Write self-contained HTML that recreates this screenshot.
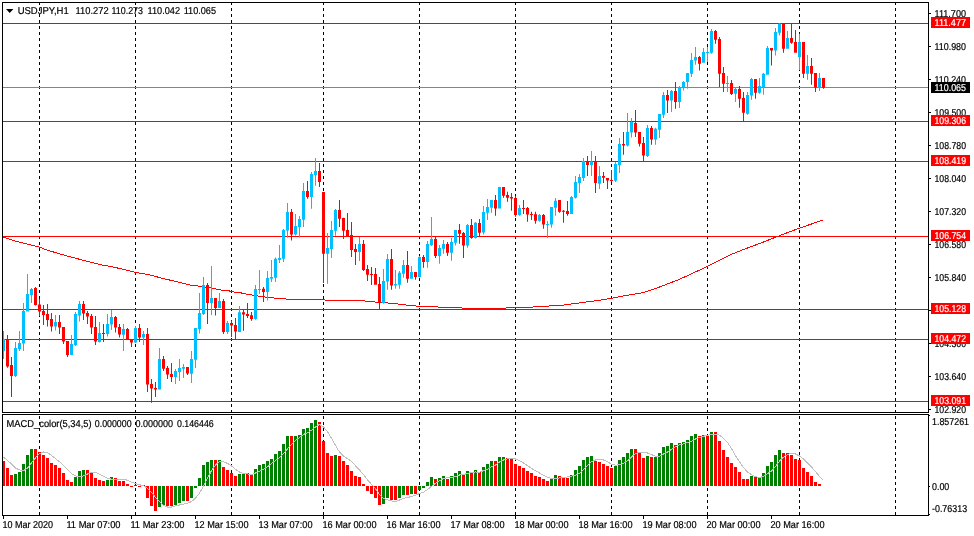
<!DOCTYPE html>
<html lang="en"><head><meta charset="utf-8"><title>USDJPY,H1</title>
<style>html,body{margin:0;padding:0;background:#fff;}body{width:974px;height:536px;overflow:hidden;}svg{display:block;}text{font-family:"Liberation Sans",sans-serif;font-size:10px;fill:#000;stroke:#000;stroke-width:0.2px;text-rendering:geometricPrecision;}.w{fill:#fff;stroke:#fff;}</style></head><body>
<svg width="974" height="536" viewBox="0 0 974 536">
<rect width="974" height="536" fill="#fff"/>
<g stroke="#000" stroke-width="1" shape-rendering="crispEdges">
<line x1="39.5" y1="2" x2="39.5" y2="515" stroke-dasharray="3 3"/>
<line x1="135.5" y1="2" x2="135.5" y2="515" stroke-dasharray="3 3"/>
<line x1="231.5" y1="2" x2="231.5" y2="515" stroke-dasharray="3 3"/>
<line x1="323.5" y1="2" x2="323.5" y2="515" stroke-dasharray="3 3"/>
<line x1="419.5" y1="2" x2="419.5" y2="515" stroke-dasharray="3 3"/>
<line x1="515.5" y1="2" x2="515.5" y2="515" stroke-dasharray="3 3"/>
<line x1="611.5" y1="2" x2="611.5" y2="515" stroke-dasharray="3 3"/>
<line x1="707.5" y1="2" x2="707.5" y2="515" stroke-dasharray="3 3"/>
<line x1="799.5" y1="2" x2="799.5" y2="515" stroke-dasharray="3 3"/>
<line x1="895.5" y1="2" x2="895.5" y2="515" stroke-dasharray="3 3"/>
</g>
<polyline fill="none" stroke="#FF0000" stroke-width="1" shape-rendering="crispEdges" points="3,237 16.4,241.4 39.4,247.2 49.3,250.8 69,256.5 85.4,260.8 101.8,264.9 115,267.4 135.5,272.3 150,275 165,279 180,282.4 190,285 200,286.2 213,288.4 222,290.2 229.7,291.02 234.2,292.02 241.6,293.02 246.1,294.02 252,295.02 258,296.02 265.4,297.02 274,298.02 286,299.02 326,300.02 360,300.5 374,301.9 394,303.5 406,305 418,306.25 438,307 462,308 482,308.6 503,308.7 506,307.9 519,307.6 533,307 549,306 564,305 581,302.7 597.5,300.5 611,298.4 627,295.3 642,292.9 650,290.5 659.5,287 680,279.1 707.3,266.5 729.7,255.1 743.4,249.5 761,243 776.6,236.8 788.3,232.3 800,228 822.4,220.2"/>
<g shape-rendering="crispEdges">
<rect x="3" y="87" width="925" height="1" fill="#778899"/>
<rect x="3" y="23" width="925" height="1" fill="#FF0000"/>
<rect x="3" y="121" width="925" height="1" fill="#FF0000"/>
<rect x="3" y="161" width="925" height="1" fill="#FF0000"/>
<rect x="3" y="236" width="925" height="1" fill="#FF0000"/>
<rect x="3" y="309" width="925" height="1" fill="#FF0000"/>
<rect x="3" y="339" width="925" height="1" fill="#FF0000"/>
<rect x="3" y="401" width="925" height="1" fill="#FF0000"/>
</g>
<path fill="#00BFFF" d="M2 339h3V351h-3zM3 331h1V359h-1zM14 348h3V376h-3zM15 342h1V377h-1zM18 343h3V349h-3zM19 331h1V351h-1zM22 311h3V343.5h-3zM23 303h1V351h-1zM26 294h3V311.5h-3zM27 274h1V311.5h-1zM30 289h3V295h-3zM31 288h1V303h-1zM54 322h3V326.5h-3zM55 315h1V330.5h-1zM70 344h3V355h-3zM71 335h1V355h-1zM74 314h3V345h-3zM75 312h1V346h-1zM78 304h3V315.5h-3zM79 301h1V321.5h-1zM98 333h3V342h-3zM99 322h1V342.5h-1zM106 324h3V334h-3zM107 314h1V336.5h-1zM110 317h3V324.5h-3zM111 310h1V330h-1zM122 329h3V334.75h-3zM123 324h1V351h-1zM134 328h3V342.6h-3zM135 326h1V343h-1zM142 334h3V337.5h-3zM143 331h1V345h-1zM158 359h3V389.6h-3zM159 348h1V389.6h-1zM174 371h3V377h-3zM175 369h1V384h-1zM178 368h3V372h-3zM179 359h1V381h-1zM182 367h3V368.7h-3zM183 364h1V378h-1zM190 359h3V373.7h-3zM191 351h1V383h-1zM194 328h3V359.8h-3zM195 328h1V368h-1zM198 313h3V329h-3zM199 293h1V333.5h-1zM202 285h3V314h-3zM203 277h1V315h-1zM210 298h3V303h-3zM211 266h1V315h-1zM218 301h3V308h-3zM219 293h1V308h-1zM226 323h3V332h-3zM227 321h1V334h-1zM238 312.2h3V331.9h-3zM239 306h1V332h-1zM254 289h3V319h-3zM255 285h1V319.7h-1zM258 289h3V290h-3zM259 270h1V293.75h-1zM266 278h3V292h-3zM267 271h1V300.6h-1zM270 277h3V278.75h-3zM271 260h1V282h-1zM274 258.75h3V277.75h-3zM275 257.5h1V282h-1zM278 258h3V260h-3zM279 245h1V263h-1zM282 230h3V258.75h-3zM283 229h1V262h-1zM286 212h3V230.6h-3zM287 203h1V237.5h-1zM294 226h3V234.6h-3zM295 214h1V235.6h-1zM298 219h3V227h-3zM299 216h1V237.5h-1zM302 191h3V219.8h-3zM303 183h1V227h-1zM310 174h3V197h-3zM311 172h1V208.75h-1zM314 171h3V175h-3zM315 158h1V185.8h-1zM326 248h3V253.75h-3zM327 233h1V283.75h-1zM330 230h3V249h-3zM331 221h1V258h-1zM334 210h3V230.7h-3zM335 209h1V235.7h-1zM358 244h3V252h-3zM359 237h1V261h-1zM382 281h3V303h-3zM383 269h1V303.75h-1zM386 259h3V281.6h-3zM387 254h1V289.75h-1zM394 284h3V285.6h-3zM395 270h1V288.75h-1zM398 272.75h3V284.75h-3zM399 271h1V288.75h-1zM402 265h3V273.75h-3zM403 260h1V277.75h-1zM410 272h3V278.75h-3zM411 266h1V278.75h-1zM418 257h3V276.9h-3zM419 256h1V277.5h-1zM426 244h3V261.9h-3zM427 241h1V267.75h-1zM430 239h3V245h-3zM431 217h1V246h-1zM438 248h3V255.9h-3zM439 245h1V263.75h-1zM442 244h3V248.75h-3zM443 240h1V253.75h-1zM450 242h3V252.75h-3zM451 238h1V260.75h-1zM454 230h3V242.75h-3zM455 230h1V245.6h-1zM466 225h3V245.6h-3zM467 224h1V247.75h-1zM474 222.75h3V238h-3zM475 222h1V238.75h-1zM482 212h3V232.6h-3zM483 206h1V234.5h-1zM486 207h3V212.75h-3zM487 199h1V220h-1zM490 200h3V207.75h-3zM491 200h1V212.75h-1zM498 187h3V208.6h-3zM499 187h1V208.6h-1zM518 208h3V214.9h-3zM519 205h1V215.75h-1zM538 215h3V220.75h-3zM539 214h1V221.75h-1zM546 224h3V225h-3zM547 221h1V237.9h-1zM550 207h3V224.6h-3zM551 207h1V227.75h-1zM554 200.75h3V207.75h-3zM555 198h1V215.75h-1zM570 197h3V214h-3zM571 196h1V214h-1zM574 182h3V197.75h-3zM575 176h1V198.6h-1zM578 177h3V183h-3zM579 174h1V193h-1zM582 161h3V178h-3zM583 158h1V181h-1zM590 161.5h3V165h-3zM591 151h1V176h-1zM598 176h3V183.8h-3zM599 166h1V189h-1zM614 164h3V180.8h-3zM615 162h1V182h-1zM618 144h3V165h-3zM619 138h1V173h-1zM626 132h3V145.6h-3zM627 113h1V146.5h-1zM630 122h3V132.5h-3zM631 118h1V137.5h-1zM646 128h3V156h-3zM647 125h1V157h-1zM654 128.75h3V139.6h-3zM655 127.75h1V144.75h-1zM658 114h3V129.75h-3zM659 114h1V138h-1zM662 95h3V114.75h-3zM663 92h1V118h-1zM670 91h3V100.6h-3zM671 90h1V112h-1zM678 87h3V102h-3zM679 86h1V108h-1zM682 82h3V87h-3zM683 81h1V90.6h-1zM686 73h3V82h-3zM687 73h1V88.75h-1zM690 60h3V73.75h-3zM691 53h1V77h-1zM694 57h3V60.6h-3zM695 47h1V64.75h-1zM702 52h3V62.75h-3zM703 48h1V62.75h-1zM706 52h3V53h-3zM707 47h1V62h-1zM710 31h3V52.75h-3zM711 29h1V53.75h-1zM726 83h3V84h-3zM727 76h1V92h-1zM734 89h3V93.75h-3zM735 87h1V102h-1zM746 95h3V113.75h-3zM747 92h1V114.75h-1zM750 79h3V95.6h-3zM751 78h1V99.75h-1zM758 86h3V92.75h-3zM759 78h1V93.75h-1zM762 73.75h3V87h-3zM763 73h1V94.75h-1zM766 48h3V74.75h-3zM767 46h1V74.75h-1zM774 32h3V50.6h-3zM775 28h1V55.6h-1zM778 23.75h3V32.75h-3zM779 23h1V35.6h-1zM786 38h3V48.75h-3zM787 31h1V48.75h-1zM798 42h3V56.9h-3zM799 33.75h1V70h-1zM806 66h3V73.75h-3zM807 55h1V79.75h-1zM818 78h3V87.5h-3zM819 73h1V91h-1z"/>
<path fill="#FF0000" d="M6 339.4h3V366.5h-3zM7 335h1V367.7h-1zM10 365h3V376h-3zM11 357h1V397h-1zM34 288h3V305h-3zM35 287h1V305.5h-1zM38 304.5h3V311.5h-3zM39 299h1V316h-1zM42 311h3V315h-3zM43 305h1V325h-1zM46 314h3V320h-3zM47 304h1V326.5h-1zM50 319h3V326.5h-3zM51 313h1V331.5h-1zM58 322h3V327.5h-3zM59 315h1V334h-1zM62 327h3V341.5h-3zM63 327h1V344h-1zM66 341h3V355h-3zM67 341h1V357h-1zM82 304h3V313.5h-3zM83 301h1V320h-1zM86 313h3V316.5h-3zM87 311h1V324h-1zM90 316h3V327.5h-3zM91 314h1V334h-1zM94 327h3V341.5h-3zM95 316h1V345h-1zM102 333h3V334h-3zM103 324h1V342h-1zM114 317h3V327.5h-3zM115 316h1V332.5h-1zM118 327h3V334.5h-3zM119 324h1V337.5h-1zM126 329h3V339h-3zM127 328h1V339h-1zM130 339h3V342.6h-3zM131 339h1V347h-1zM138 328h3V337.5h-3zM139 324h1V342h-1zM146 334h3V384.6h-3zM147 328h1V392h-1zM150 384h3V388.6h-3zM151 379h1V402.8h-1zM154 388h3V389.6h-3zM155 382h1V397h-1zM162 359h3V368.7h-3zM163 356h1V371h-1zM166 368h3V374.6h-3zM167 366h1V379h-1zM170 374h3V377h-3zM171 363h1V382h-1zM186 367h3V373.6h-3zM187 367h1V375h-1zM206 285h3V303h-3zM207 283h1V324h-1zM214 298h3V308h-3zM215 298h1V315.6h-1zM222 301h3V332h-3zM223 299h1V334h-1zM230 323h3V325.6h-3zM231 320.6h1V337h-1zM234 325h3V331.6h-3zM235 318h1V339.5h-1zM242 312.2h3V314.6h-3zM243 309.5h1V330.8h-1zM246 314h3V315.9h-3zM247 303h1V318h-1zM250 315.3h3V319h-3zM251 312h1V320.8h-1zM262 288.75h3V292h-3zM263 287h1V302h-1zM290 212h3V234.6h-3zM291 209h1V240.6h-1zM306 191h3V197h-3zM307 181h1V198.75h-1zM318 171h3V182h-3zM319 163h1V187h-1zM322 192h3V253.75h-3zM323 192h1V283h-1zM338 210h3V218.8h-3zM339 200h1V227h-1zM342 218h3V230.7h-3zM343 217.8h1V238.9h-1zM346 230h3V236.6h-3zM347 213h1V236.6h-1zM350 235h3V250h-3zM351 222h1V257h-1zM354 249h3V252h-3zM355 244h1V265h-1zM362 244h3V270h-3zM363 240h1V271h-1zM366 269h3V274.75h-3zM367 265h1V281h-1zM370 274h3V275h-3zM371 267h1V285h-1zM374 274h3V284.75h-3zM375 268h1V284.75h-1zM378 284h3V302.5h-3zM379 277h1V309.4h-1zM390 259h3V285.6h-3zM391 249h1V289.75h-1zM406 265h3V278.75h-3zM407 251h1V282.75h-1zM414 272h3V276.9h-3zM415 272h1V279.75h-1zM422 257h3V261.9h-3zM423 255h1V267.75h-1zM434 239h3V255.9h-3zM435 237h1V257.9h-1zM446 244h3V252.75h-3zM447 242h1V255.9h-1zM458 230h3V233.75h-3zM459 224h1V243.75h-1zM462 233h3V245.6h-3zM463 232h1V257.9h-1zM470 225h3V238h-3zM471 219h1V238.75h-1zM478 223h3V232.75h-3zM479 219h1V236h-1zM494 200h3V208.6h-3zM495 195h1V215.75h-1zM502 187h3V195.75h-3zM503 187h1V197.75h-1zM506 195h3V197.75h-3zM507 191.75h1V201.75h-1zM510 197h3V198.6h-3zM511 193h1V210.75h-1zM514 198h3V214.9h-3zM515 196h1V216.75h-1zM522 208h3V209h-3zM523 200h1V214h-1zM526 208h3V214.6h-3zM527 207h1V221.75h-1zM530 214h3V215h-3zM531 211.75h1V220h-1zM534 214.25h3V220.75h-3zM535 211.75h1V223.75h-1zM542 215h3V224.6h-3zM543 214h1V228.75h-1zM558 200h3V211.75h-3zM559 200h1V212.75h-1zM562 210.75h3V211.75h-3zM563 210h1V222.75h-1zM566 211h3V214h-3zM567 201h1V215.75h-1zM586 161.5h3V165h-3zM587 156h1V176h-1zM594 161.5h3V183h-3zM595 156h1V193h-1zM602 176h3V177.7h-3zM603 172h1V183h-1zM606 178h3V180.6h-3zM607 178h1V189h-1zM610 180h3V181h-3zM611 170h1V182h-1zM622 144h3V145.6h-3zM623 132h1V154.75h-1zM634 123h3V132.5h-3zM635 110h1V137h-1zM638 132h3V143.75h-3zM639 132h1V146.5h-1zM642 143h3V155.6h-3zM643 137h1V161.25h-1zM650 128h3V139.6h-3zM651 126h1V144.75h-1zM666 95h3V100.6h-3zM667 90h1V113h-1zM674 91h3V102h-3zM675 82h1V108.75h-1zM698 57h3V63.75h-3zM699 56h1V70.6h-1zM714 31h3V39.75h-3zM715 30h1V43.75h-1zM718 39h3V73.75h-3zM719 37h1V87h-1zM722 73h3V83.75h-3zM723 67h1V92h-1zM730 83h3V94h-3zM731 80h1V95h-1zM738 89h3V98.75h-3zM739 86h1V107.75h-1zM742 98h3V112.75h-3zM743 92h1V121.25h-1zM754 79h3V92.75h-3zM755 79h1V98.75h-1zM770 48h3V50.6h-3zM771 48h1V65.6h-1zM782 23.75h3V48.75h-3zM783 23h1V52.75h-1zM790 38h3V42.75h-3zM791 23h1V43.75h-1zM794 42h3V52.75h-3zM795 30h1V52.75h-1zM802 42h3V73.75h-3zM803 42h1V78h-1zM810 66h3V73.75h-3zM811 58h1V84.75h-1zM814 73h3V87.5h-3zM815 73h1V92h-1zM822 78h3V87.75h-3zM823 78h1V88.75h-1z"/>
<path fill="#008000" d="M14 474h3V486h-3zM18 472h3V486h-3zM22 464h3V486h-3zM26 455h3V486h-3zM30 449h3V486h-3zM74 477h3V486h-3zM78 471h3V486h-3zM82 470h3V486h-3zM106 480h3V486h-3zM110 477h3V486h-3zM134 485h3V486h-3zM142 485h3V486h-3zM158 486h3V507h-3zM162 486h3V505h-3zM174 486h3V505h-3zM178 486h3V503h-3zM182 486h3V501h-3zM190 486h3V498h-3zM194 486h3V488h-3zM198 478h3V486h-3zM202 465h3V486h-3zM206 462h3V486h-3zM210 460h3V486h-3zM218 460h3V486h-3zM238 474h3V486h-3zM242 474h3V486h-3zM254 469h3V486h-3zM258 465h3V486h-3zM262 464h3V486h-3zM266 461h3V486h-3zM270 459h3V486h-3zM274 454h3V486h-3zM278 451h3V486h-3zM282 444h3V486h-3zM286 436h3V486h-3zM294 436h3V486h-3zM298 435h3V486h-3zM302 429h3V486h-3zM306 428h3V486h-3zM310 423h3V486h-3zM314 420h3V486h-3zM334 455h3V486h-3zM382 486h3V504h-3zM386 486h3V498h-3zM398 486h3V498h-3zM402 486h3V495h-3zM410 486h3V494h-3zM418 486h3V490h-3zM422 486h3V488h-3zM426 482h3V486h-3zM430 477h3V486h-3zM438 478h3V486h-3zM442 476h3V486h-3zM450 476h3V486h-3zM454 473h3V486h-3zM458 471h3V486h-3zM466 471h3V486h-3zM474 470h3V486h-3zM482 467h3V486h-3zM486 464h3V486h-3zM490 461h3V486h-3zM498 457h3V486h-3zM502 457h3V486h-3zM550 479h3V486h-3zM554 475h3V486h-3zM570 475h3V486h-3zM574 470h3V486h-3zM578 466h3V486h-3zM582 460h3V486h-3zM586 457h3V486h-3zM590 456h3V486h-3zM614 466h3V486h-3zM618 460h3V486h-3zM622 457h3V486h-3zM626 453h3V486h-3zM630 449h3V486h-3zM646 456h3V486h-3zM654 457h3V486h-3zM658 453h3V486h-3zM662 447h3V486h-3zM666 446h3V486h-3zM670 443h3V486h-3zM678 443h3V486h-3zM682 442h3V486h-3zM686 440h3V486h-3zM690 436h3V486h-3zM694 434h3V486h-3zM702 435h3V486h-3zM710 432h3V486h-3zM750 476h3V486h-3zM758 477h3V486h-3zM762 473h3V486h-3zM766 466h3V486h-3zM770 462h3V486h-3zM774 455h3V486h-3zM778 450h3V486h-3z" shape-rendering="crispEdges"/>
<path fill="#FF0000" d="M2 461h3V486h-3zM6 468h3V486h-3zM10 475h3V486h-3zM34 449h3V486h-3zM38 452h3V486h-3zM42 455h3V486h-3zM46 458h3V486h-3zM50 463h3V486h-3zM54 465h3V486h-3zM58 468h3V486h-3zM62 473h3V486h-3zM66 480h3V486h-3zM70 482h3V486h-3zM86 470h3V486h-3zM90 473h3V486h-3zM94 478h3V486h-3zM98 480h3V486h-3zM102 481h3V486h-3zM114 478h3V486h-3zM118 481h3V486h-3zM122 481h3V486h-3zM126 484h3V486h-3zM130 486h3V487h-3zM138 486h3V487h-3zM146 486h3V498h-3zM150 486h3V506h-3zM154 486h3V511h-3zM166 486h3V506h-3zM170 486h3V506h-3zM186 486h3V501h-3zM214 460h3V486h-3zM222 467h3V486h-3zM226 470h3V486h-3zM230 473h3V486h-3zM234 476h3V486h-3zM246 473h3V486h-3zM250 475h3V486h-3zM290 436h3V486h-3zM318 422h3V486h-3zM322 441h3V486h-3zM326 453h3V486h-3zM330 456h3V486h-3zM338 456h3V486h-3zM342 461h3V486h-3zM346 465h3V486h-3zM350 471h3V486h-3zM354 476h3V486h-3zM358 477h3V486h-3zM362 484h3V486h-3zM366 486h3V491h-3zM370 486h3V494h-3zM374 486h3V498h-3zM378 486h3V505h-3zM390 486h3V500h-3zM394 486h3V500h-3zM406 486h3V495h-3zM414 486h3V494h-3zM434 479h3V486h-3zM446 479h3V486h-3zM462 475h3V486h-3zM470 473h3V486h-3zM478 472h3V486h-3zM494 461h3V486h-3zM506 458h3V486h-3zM510 459h3V486h-3zM514 464h3V486h-3zM518 466h3V486h-3zM522 468h3V486h-3zM526 471h3V486h-3zM530 473h3V486h-3zM534 476h3V486h-3zM538 477h3V486h-3zM542 479h3V486h-3zM546 481h3V486h-3zM558 476h3V486h-3zM562 477h3V486h-3zM566 478h3V486h-3zM594 461h3V486h-3zM598 462h3V486h-3zM602 464h3V486h-3zM606 466h3V486h-3zM610 468h3V486h-3zM634 449h3V486h-3zM638 453h3V486h-3zM642 458h3V486h-3zM650 457h3V486h-3zM674 445h3V486h-3zM698 436h3V486h-3zM706 436h3V486h-3zM714 432h3V486h-3zM718 441h3V486h-3zM722 450h3V486h-3zM726 457h3V486h-3zM730 463h3V486h-3zM734 467h3V486h-3zM738 472h3V486h-3zM742 479h3V486h-3zM746 479h3V486h-3zM754 477h3V486h-3zM782 453h3V486h-3zM786 453h3V486h-3zM790 455h3V486h-3zM794 459h3V486h-3zM798 460h3V486h-3zM802 468h3V486h-3zM806 472h3V486h-3zM810 476h3V486h-3zM814 482h3V486h-3zM818 484h3V486h-3z" shape-rendering="crispEdges"/>
<polyline fill="none" stroke="#C0C0C0" stroke-width="1" shape-rendering="crispEdges" points="3.5,457 7.5,460.5 11.5,464 15.5,468 19.5,470 23.5,470.6 27.5,468 31.5,462.8 35.5,457.8 39.5,453.8 43.5,452 47.5,452.6 51.5,455.4 55.5,458.6 59.5,461.8 63.5,465.4 67.5,469.8 71.5,473.6 75.5,476 79.5,476.6 83.5,476 87.5,474 91.5,472.2 95.5,472.4 99.5,474.2 103.5,476.4 107.5,478.4 111.5,479.2 115.5,479.2 119.5,479.4 123.5,479.4 127.5,480.2 131.5,482.2 135.5,483.6 139.5,484.8 143.5,485.6 147.5,488.4 151.5,492.2 155.5,497.4 159.5,501.4 163.5,505.4 167.5,507 171.5,507 175.5,505.8 179.5,505 183.5,504.2 187.5,503.2 191.5,501.6 195.5,498.2 199.5,493.2 203.5,486 207.5,478.2 211.5,470.6 215.5,465 219.5,461.4 223.5,461.8 227.5,463.4 231.5,466 235.5,469.2 239.5,472 243.5,473.4 247.5,474 251.5,474.4 255.5,473 259.5,471.2 263.5,469.2 267.5,466.8 271.5,463.6 275.5,460.6 279.5,457.8 283.5,453.8 287.5,448.8 291.5,444.2 295.5,440.6 299.5,437.4 303.5,434.4 307.5,432.8 311.5,430.2 315.5,427 319.5,424.4 323.5,426.8 327.5,431.8 331.5,438.4 335.5,445.4 339.5,452.2 343.5,456.2 347.5,458.6 351.5,461.6 355.5,465.8 359.5,470 363.5,474.6 367.5,479.8 371.5,484.4 375.5,488.8 379.5,494.4 383.5,498.4 387.5,499.8 391.5,501 395.5,501.4 399.5,500 403.5,498.2 407.5,497.6 411.5,496.4 415.5,495.2 419.5,493.6 423.5,492.2 427.5,489.6 431.5,486.2 435.5,483.2 439.5,480.8 443.5,478.4 447.5,477.8 451.5,477.6 455.5,476.4 459.5,475 463.5,474.8 467.5,473.2 471.5,472.6 475.5,472 479.5,472.2 483.5,470.6 487.5,469.2 491.5,466.8 495.5,465 499.5,462 503.5,460 507.5,458.8 511.5,458.4 515.5,459 519.5,460.8 523.5,463 527.5,465.6 531.5,468.4 535.5,470.8 539.5,473 543.5,475.2 547.5,477.2 551.5,478.4 555.5,478.2 559.5,478 563.5,477.6 567.5,477 571.5,476.2 575.5,475.2 579.5,473.2 583.5,469.8 587.5,465.6 591.5,461.8 595.5,460 599.5,459.2 603.5,460 607.5,461.8 611.5,464.2 615.5,465.2 619.5,464.8 623.5,463.4 627.5,460.8 631.5,457 635.5,453.6 639.5,452.2 643.5,452.4 647.5,453 651.5,454.6 655.5,456.2 659.5,456.2 663.5,454 667.5,452 671.5,449.2 675.5,446.8 679.5,444.8 683.5,443.8 687.5,442.6 691.5,441.2 695.5,439 699.5,437.6 703.5,436.2 707.5,435.4 711.5,434.6 715.5,434.2 719.5,435.2 723.5,438.2 727.5,442.4 731.5,448.6 735.5,455.6 739.5,461.8 743.5,467.6 747.5,472 751.5,474.6 755.5,476.6 759.5,477.6 763.5,476.4 767.5,473.8 771.5,471 775.5,466.6 779.5,461.2 783.5,457.2 787.5,454.6 791.5,453.2 795.5,454 799.5,456 803.5,459 807.5,462.8 811.5,467 815.5,471.6 819.5,476.4 822.5,479.6"/>
<g fill="#000" shape-rendering="crispEdges">
<rect x="2" y="2" width="927" height="1"/>
<rect x="2" y="412" width="927" height="1"/>
<rect x="2" y="414" width="927" height="1"/>
<rect x="2" y="515" width="927" height="1"/>
<rect x="2" y="2" width="1" height="411"/>
<rect x="2" y="414" width="1" height="102"/>
<rect x="928" y="2" width="1" height="411"/>
<rect x="928" y="414" width="1" height="102"/>
<rect x="929" y="13" width="2" height="1"/>
<rect x="929" y="46" width="2" height="1"/>
<rect x="929" y="79" width="2" height="1"/>
<rect x="929" y="112" width="2" height="1"/>
<rect x="929" y="145" width="2" height="1"/>
<rect x="929" y="178" width="2" height="1"/>
<rect x="929" y="211" width="2" height="1"/>
<rect x="929" y="244" width="2" height="1"/>
<rect x="929" y="277" width="2" height="1"/>
<rect x="929" y="310" width="2" height="1"/>
<rect x="929" y="343" width="2" height="1"/>
<rect x="929" y="376" width="2" height="1"/>
<rect x="929" y="409" width="2" height="1"/>
<rect x="929" y="415" width="1" height="1"/>
<rect x="929" y="486" width="1" height="1"/>
<rect x="929" y="514" width="1" height="1"/>
<rect x="3" y="516" width="1" height="3"/>
<rect x="67" y="516" width="1" height="3"/>
<rect x="131" y="516" width="1" height="3"/>
<rect x="195" y="516" width="1" height="3"/>
<rect x="259" y="516" width="1" height="3"/>
<rect x="323" y="516" width="1" height="3"/>
<rect x="387" y="516" width="1" height="3"/>
<rect x="451" y="516" width="1" height="3"/>
<rect x="515" y="516" width="1" height="3"/>
<rect x="579" y="516" width="1" height="3"/>
<rect x="643" y="516" width="1" height="3"/>
<rect x="707" y="516" width="1" height="3"/>
<rect x="771" y="516" width="1" height="3"/>
</g>
<text x="934.5" y="16.95" textLength="31.5" lengthAdjust="spacingAndGlyphs">111.700</text>
<text x="934.5" y="49.95" textLength="31.5" lengthAdjust="spacingAndGlyphs">110.980</text>
<text x="934.5" y="82.95" textLength="31.5" lengthAdjust="spacingAndGlyphs">110.240</text>
<text x="934.5" y="115.95" textLength="31.5" lengthAdjust="spacingAndGlyphs">109.500</text>
<text x="934.5" y="148.95" textLength="31.5" lengthAdjust="spacingAndGlyphs">108.780</text>
<text x="934.5" y="181.95" textLength="31.5" lengthAdjust="spacingAndGlyphs">108.040</text>
<text x="934.5" y="214.95" textLength="31.5" lengthAdjust="spacingAndGlyphs">107.320</text>
<text x="934.5" y="247.95" textLength="31.5" lengthAdjust="spacingAndGlyphs">106.580</text>
<text x="934.5" y="280.95" textLength="31.5" lengthAdjust="spacingAndGlyphs">105.840</text>
<text x="934.5" y="346.95" textLength="31.5" lengthAdjust="spacingAndGlyphs">104.360</text>
<text x="934.5" y="379.95" textLength="31.5" lengthAdjust="spacingAndGlyphs">103.640</text>
<text x="934.5" y="412.95" textLength="31.5" lengthAdjust="spacingAndGlyphs">102.920</text>
<text x="932" y="424.95" textLength="37" lengthAdjust="spacingAndGlyphs">1.857261</text>
<text x="932" y="489.95" textLength="17.3" lengthAdjust="spacingAndGlyphs">0.00</text>
<text x="932" y="511.95" textLength="35.1" lengthAdjust="spacingAndGlyphs">-0.76313</text>
<rect x="931" y="17" width="39" height="11" fill="#FF0000" shape-rendering="crispEdges"/>
<text x="934.5" y="25.95" textLength="31.5" lengthAdjust="spacingAndGlyphs" class="w">111.477</text>
<rect x="931" y="115" width="39" height="11" fill="#FF0000" shape-rendering="crispEdges"/>
<text x="934.5" y="123.95" textLength="31.5" lengthAdjust="spacingAndGlyphs" class="w">109.306</text>
<rect x="931" y="155" width="39" height="11" fill="#FF0000" shape-rendering="crispEdges"/>
<text x="934.5" y="163.95" textLength="31.5" lengthAdjust="spacingAndGlyphs" class="w">108.419</text>
<rect x="931" y="230" width="39" height="11" fill="#FF0000" shape-rendering="crispEdges"/>
<text x="934.5" y="238.95" textLength="31.5" lengthAdjust="spacingAndGlyphs" class="w">106.754</text>
<rect x="931" y="303" width="39" height="11" fill="#FF0000" shape-rendering="crispEdges"/>
<text x="934.5" y="311.95" textLength="31.5" lengthAdjust="spacingAndGlyphs" class="w">105.128</text>
<rect x="931" y="333" width="39" height="11" fill="#FF0000" shape-rendering="crispEdges"/>
<text x="934.5" y="341.95" textLength="31.5" lengthAdjust="spacingAndGlyphs" class="w">104.472</text>
<rect x="931" y="395" width="39" height="11" fill="#FF0000" shape-rendering="crispEdges"/>
<text x="934.5" y="403.95" textLength="31.5" lengthAdjust="spacingAndGlyphs" class="w">103.091</text>
<rect x="931" y="82" width="39" height="11" fill="#000" shape-rendering="crispEdges"/>
<text x="934.5" y="90.95" textLength="31.5" lengthAdjust="spacingAndGlyphs" class="w">110.065</text>
<text x="2.4" y="527.95" textLength="50.6" lengthAdjust="spacingAndGlyphs">10 Mar 2020</text>
<text x="66.4" y="527.95" textLength="54.1" lengthAdjust="spacingAndGlyphs">11 Mar 07:00</text>
<text x="130.4" y="527.95" textLength="54.1" lengthAdjust="spacingAndGlyphs">11 Mar 23:00</text>
<text x="194.4" y="527.95" textLength="54.1" lengthAdjust="spacingAndGlyphs">12 Mar 15:00</text>
<text x="258.4" y="527.95" textLength="54.1" lengthAdjust="spacingAndGlyphs">13 Mar 07:00</text>
<text x="322.4" y="527.95" textLength="54.1" lengthAdjust="spacingAndGlyphs">16 Mar 00:00</text>
<text x="386.4" y="527.95" textLength="54.1" lengthAdjust="spacingAndGlyphs">16 Mar 16:00</text>
<text x="450.4" y="527.95" textLength="54.1" lengthAdjust="spacingAndGlyphs">17 Mar 08:00</text>
<text x="514.4" y="527.95" textLength="54.1" lengthAdjust="spacingAndGlyphs">18 Mar 00:00</text>
<text x="578.4" y="527.95" textLength="54.1" lengthAdjust="spacingAndGlyphs">18 Mar 16:00</text>
<text x="642.4" y="527.95" textLength="54.1" lengthAdjust="spacingAndGlyphs">19 Mar 08:00</text>
<text x="706.4" y="527.95" textLength="54.1" lengthAdjust="spacingAndGlyphs">20 Mar 00:00</text>
<text x="770.4" y="527.95" textLength="54.1" lengthAdjust="spacingAndGlyphs">20 Mar 16:00</text>
<path d="M6 9h7.4l-3.7 4z" fill="#000"/>
<text x="17.7" y="13.95" textLength="51" lengthAdjust="spacingAndGlyphs">USDJPY,H1</text>
<text x="75.6" y="13.95" textLength="33" lengthAdjust="spacingAndGlyphs">110.272</text>
<text x="111.5" y="13.95" textLength="31.5" lengthAdjust="spacingAndGlyphs">110.273</text>
<text x="147.6" y="13.95" textLength="32.4" lengthAdjust="spacingAndGlyphs">110.042</text>
<text x="183.7" y="13.95" textLength="32.3" lengthAdjust="spacingAndGlyphs">110.065</text>
<text x="6.6" y="426.95" textLength="85" lengthAdjust="spacingAndGlyphs">MACD_color(5,34,5)</text>
<text x="94.8" y="426.95" textLength="36.8" lengthAdjust="spacingAndGlyphs">0.000000</text>
<text x="135.5" y="426.95" textLength="37.6" lengthAdjust="spacingAndGlyphs">0.000000</text>
<text x="177" y="426.95" textLength="36.7" lengthAdjust="spacingAndGlyphs">0.146446</text>
</svg></body></html>
